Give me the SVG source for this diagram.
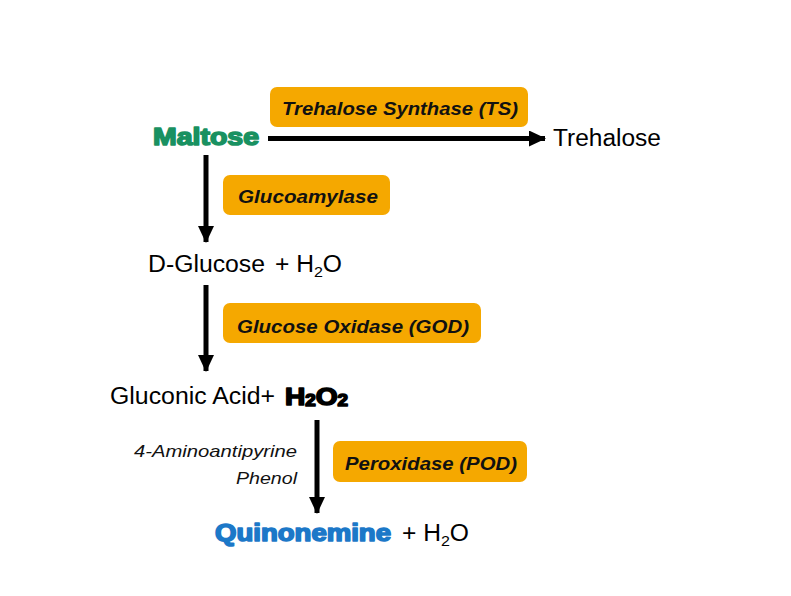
<svg xmlns="http://www.w3.org/2000/svg" width="791" height="596" viewBox="0 0 791 596">
<defs>
<style>
.box{fill:#F5A800;}
.enz{font-family:"Liberation Sans",Arial,sans-serif;font-weight:bold;font-style:italic;font-size:18px;fill:#111;}
.t{font-family:"Liberation Sans",Arial,sans-serif;font-size:23px;fill:#000;}
.it{font-family:"Liberation Sans",Arial,sans-serif;font-style:italic;font-size:17px;fill:#111;}
.blk{font-family:"Liberation Sans",Arial,sans-serif;font-weight:bold;font-size:24px;stroke-width:1.6px;stroke-linejoin:round;}
.sub{font-size:15px;}
.line{stroke:#000;stroke-width:5;fill:none;}
</style>
<marker id="ah" viewBox="0 0 17 16" refX="16" refY="8" markerWidth="17" markerHeight="16" orient="auto" markerUnits="userSpaceOnUse">
<path d="M0,0 L17,8 L0,16 z" fill="#000"/>
</marker>
</defs>
<rect width="791" height="596" fill="#fff"/>
<g id="connectors">
<line class="line" x1="268" y1="138.5" x2="545" y2="138.5" marker-end="url(#ah)"/>
<line class="line" x1="206" y1="155" x2="206" y2="242" marker-end="url(#ah)"/>
<line class="line" x1="206" y1="285" x2="206" y2="371" marker-end="url(#ah)"/>
<line class="line" x1="317" y1="420" x2="317" y2="513" marker-end="url(#ah)"/>
</g>
<g id="ts">
<rect class="box" x="270" y="87" width="258" height="40" rx="7"/>
<text class="enz" x="282" y="115" textLength="236" lengthAdjust="spacingAndGlyphs">Trehalose Synthase (TS)</text>
</g>
<g id="glucoamylase">
<rect class="box" x="223" y="175" width="167" height="40" rx="7"/>
<text class="enz" x="238" y="203" textLength="140" lengthAdjust="spacingAndGlyphs">Glucoamylase</text>
</g>
<g id="god">
<rect class="box" x="223" y="303" width="258" height="40" rx="7"/>
<text class="enz" x="237" y="333" textLength="232" lengthAdjust="spacingAndGlyphs">Glucose Oxidase (GOD)</text>
</g>
<g id="pod">
<rect class="box" x="333" y="441" width="194" height="41" rx="7"/>
<text class="enz" x="345" y="470" textLength="172" lengthAdjust="spacingAndGlyphs">Peroxidase (POD)</text>
</g>
<g id="maltose">
<text class="blk" x="153" y="145" fill="#199161" stroke="#199161" textLength="106" lengthAdjust="spacingAndGlyphs">Maltose</text>
</g>
<g id="trehalose">
<text class="t" x="553" y="146" textLength="108" lengthAdjust="spacingAndGlyphs">Trehalose</text>
</g>
<g id="dglucose">
<text class="t" x="148" y="272" textLength="117" lengthAdjust="spacingAndGlyphs">D-Glucose</text>
<text class="t" x="275" y="272" font-size="21" textLength="67" lengthAdjust="spacingAndGlyphs">+ H<tspan class="sub" dy="5">2</tspan><tspan dy="-5">O</tspan></text>
</g>
<g id="gluconic">
<text class="t" x="110" y="404" textLength="165" lengthAdjust="spacingAndGlyphs">Gluconic Acid+</text>
<text class="blk" x="285" y="405" font-size="23" fill="#000" stroke="#000" stroke-width="1" textLength="63" lengthAdjust="spacingAndGlyphs">H<tspan font-size="16" dy="1">2</tspan><tspan dy="-1">O</tspan><tspan font-size="16" dy="1">2</tspan></text>
</g>
<g id="reagents">
<text class="it" x="297" y="457" text-anchor="end" textLength="163" lengthAdjust="spacingAndGlyphs">4-Aminoantipyrine</text>
<text class="it" x="297" y="484" text-anchor="end" textLength="61" lengthAdjust="spacingAndGlyphs">Phenol</text>
</g>
<g id="quinonemine">
<text class="blk" x="215" y="541" fill="#1C78C8" stroke="#1C78C8" textLength="176" lengthAdjust="spacingAndGlyphs">Quinonemine</text>
<text class="t" x="402" y="541" font-size="21" textLength="67" lengthAdjust="spacingAndGlyphs">+ H<tspan class="sub" dy="5">2</tspan><tspan dy="-5">O</tspan></text>
</g>
</svg>
